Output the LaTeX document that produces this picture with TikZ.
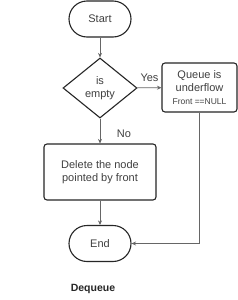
\documentclass[tikz,border=0pt]{standalone}
\usepackage{fontspec}
\setmainfont{Liberation Sans}
\usetikzlibrary{shapes.geometric,arrows.meta}
\begin{document}
\begin{tikzpicture}[x=1pt,y=-1pt,
  txt/.style={text=black!75, font=\fontsize{11}{13.5}\selectfont, align=center},
  shapeline/.style={draw=black!85, line width=1.1pt},
  term/.style={shapeline, txt, rectangle, rounded corners=18pt, minimum width=62pt, minimum height=36pt, inner sep=0pt},
  decision/.style={shapeline, txt, diamond, aspect=1.23, minimum width=74pt, minimum height=60pt, inner sep=0pt},
  procbox/.style={shapeline, txt, rectangle, rounded corners=3pt, inner sep=0pt},
  conn/.style={draw=black!60, line width=0.7pt, -{Stealth[length=4.5pt,width=4pt]}},
  lbl/.style={text=black!75, font=\fontsize{11}{13}\selectfont}
]
\path[fill=white] (0,0) rectangle (238,300);
\useasboundingbox (0,0) rectangle (238,300);
\node[term] (start) at (100,19) {Start};
\node[decision] (dec) at (100,88) {is\\empty};
\node[procbox, minimum width=75pt, minimum height=49pt] (under) at (199.5,87.5)
  {Queue is\\underflow\\[-1pt]{\fontsize{8.5}{10}\selectfont Front ==NULL}};
\node[procbox, minimum width=112pt, minimum height=56pt] (del) at (100,172) {Delete the node\\pointed by front};
\node[term] (end) at (100,243.5) {End};
\node[font=\bfseries\fontsize{10.5}{12}\selectfont, text=black!85] (title) at (93,289) {Dequeue};
\draw[conn] (start) -- (dec);
\draw[conn] (dec) -- (under);
\draw[conn] (dec) -- (del);
\draw[conn] (del) -- (end);
\draw[conn] (under.south) |- (end.east);
\node[lbl] (yes) at (149.5,78) {Yes};
\node[lbl] (no) at (124,134) {No};
\end{tikzpicture}
\end{document}
